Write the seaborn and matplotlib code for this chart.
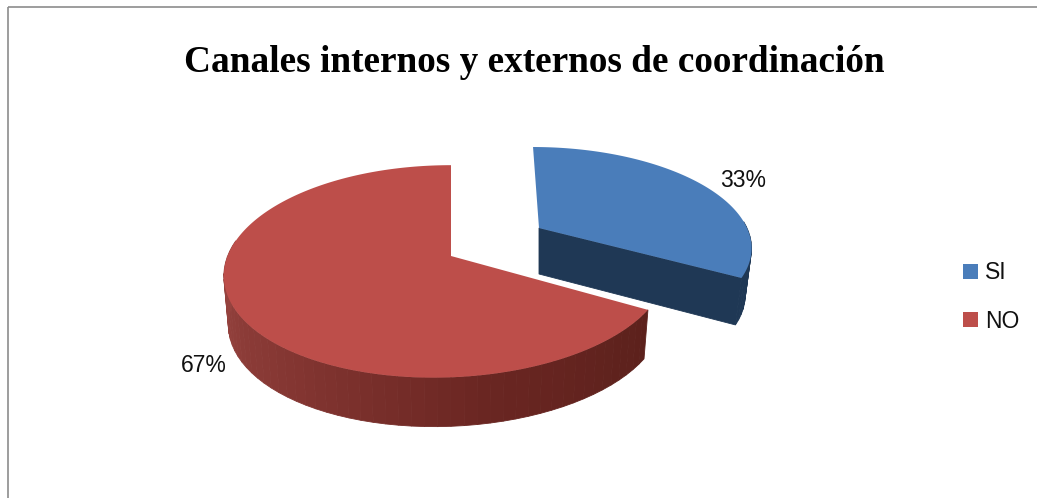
import numpy as np
import matplotlib
matplotlib.use("Agg")
import matplotlib.pyplot as plt
from matplotlib.patches import Patch, Polygon
import seaborn as sns

# chart data
title = "Canales internos y externos de coordinación"
categories = ["SI", "NO"]
values = [33, 67]
top_colors = ["#4a7dba", "#bd4e4a"]

sns.set_theme(style="white")
plt.rcParams["font.family"] = ["Liberation Sans"]

fig, ax = plt.subplots(figsize=(10.37, 4.98), dpi=100)
ax.set_position([0, 0, 1, 1])
ax.set_xlim(0, 1037)
ax.set_ylim(498, 0)
ax.axis("off")


# perspective view of a slice, angles clockwise from the top
def project(deg, tip, view):
    t = np.radians(deg)
    u = np.sin(t)
    v = -np.cos(t)
    c, a, b, lean, bend, squeeze = view
    x = (c * u * (1 - squeeze * u) - lean * v - bend * v * (v + 1) / 2) / (1 - b * v)
    y = a * v / (1 - b * v)
    return np.column_stack([tip[0] + x, tip[1] + y])


# the lower edge is a bit narrower than the top face
def lower(points, tip, depth, shrink):
    low = np.array(points, dtype=float)
    low[:, 0] = tip[0] + (low[:, 0] - tip[0]) * shrink
    low[:, 1] += depth
    return low


def draw_rim(start, end, tip, view, depth, shrink, colors):
    angles = np.linspace(start, end, len(colors) + 1)
    for i, col in enumerate(colors):
        # skip the part at the back, it is behind the top face
        if np.cos(np.radians(angles[i])) > 0.1:
            continue
        top = project(angles[i:i + 2], tip, view)
        low = lower(top, tip, depth, shrink)
        ax.add_patch(Polygon(np.vstack([top, low[::-1]]), closed=True,
                             fc=col, ec=col, lw=0.6, zorder=2))


shares = np.array(values) / sum(values) * 360

# NO slice
red_tip = (451, 256)
red_view = (219, 104, 0.145, 0, 15, 0.02)
red_angles = np.linspace(shares[0], 360, 200)
shade = sns.blend_palette(["#5c211c", "#6a2622", "#843632", "#96433f", "#96433f", "#96433f"], 80)
draw_rim(shares[0], 360, red_tip, red_view, 49, 0.98, shade)
ax.add_patch(Polygon(np.vstack([[red_tip], project(red_angles, red_tip, red_view)]),
                     closed=True, fc=top_colors[1], ec="none", zorder=3))

# SI slice, pulled out of the pie
blue_tip = (539, 228)
blue_view = (208, 95, 0.173, -7, 0, 0)
blue_angles = np.linspace(0, shares[0], 120)
draw_rim(0, shares[0], blue_tip, blue_view, 47, 0.97, ["#1f3855"] * 40)
blue_end = project([shares[0]], blue_tip, blue_view)
cut = np.vstack([[blue_tip], blue_end, lower(blue_end, blue_tip, 47, 0.97),
                 lower([blue_tip], blue_tip, 46, 0.97)])
ax.add_patch(Polygon(cut, closed=True, fc="#1f3855", ec="#1f3855", lw=0.6, zorder=4))
ax.add_patch(Polygon(np.vstack([[blue_tip], project(blue_angles, blue_tip, blue_view)]),
                     closed=True, fc=top_colors[0], ec="none", zorder=5))

# percent labels
ax.text(743, 180, f"{values[0]}%", fontsize=16.5, color="#111111", ha="center", va="center", zorder=6)
ax.text(204, 365, f"{values[1]}%", fontsize=16.5, color="#111111", ha="center", va="center", zorder=6)

ax.text(534, 62, title, family="Liberation Serif", fontweight="bold", fontsize=26.8,
        color="black", ha="center", va="center")

# legend
handles = [Patch(fc=c, ec="none") for c in top_colors]
ax.legend(handles, categories, loc="center left", bbox_to_anchor=(963 / 1037, 1 - 297 / 498),
          frameon=False, fontsize=16.5, handlelength=0.65, handleheight=0.65,
          handletextpad=0.3, labelspacing=1.1, borderpad=0, borderaxespad=0,
          labelcolor="#111111")

# outer frame, only top and left are in the picture
ax.plot([8, 1037], [7, 7], color="#8c8c8c", lw=1.2, solid_capstyle="butt", clip_on=False)
ax.plot([8, 8], [7, 498], color="#8c8c8c", lw=1.2, solid_capstyle="butt", clip_on=False)

fig.savefig("out.png", dpi=100, facecolor="white")
